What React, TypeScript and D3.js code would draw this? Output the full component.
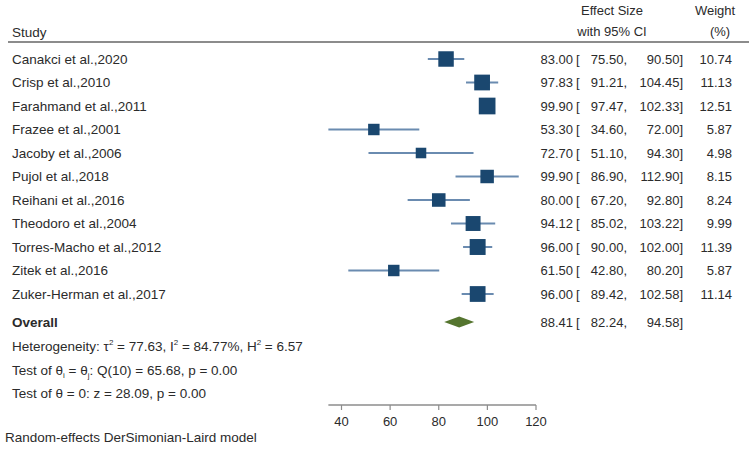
import * as d3 from 'd3';

const studies = [
  'Canakci et al.,2020',
  'Crisp et al.,2010',
  'Farahmand et al.,2011',
  'Frazee et al.,2001',
  'Jacoby et al.,2006',
  'Pujol et al.,2018',
  'Reihani et al.,2016',
  'Theodoro et al.,2004',
  'Torres-Macho et al.,2012',
  'Zitek et al.,2016',
  'Zuker-Herman et al.,2017',
];
const effect = [83.0, 97.83, 99.9, 53.3, 72.7, 99.9, 80.0, 94.12, 96.0, 61.5, 96.0];
const lower = [75.5, 91.21, 97.47, 34.6, 51.1, 86.9, 67.2, 85.02, 90.0, 42.8, 89.42];
const upper = [90.5, 104.45, 102.33, 72.0, 94.3, 112.9, 92.8, 103.22, 102.0, 80.2, 102.58];
const weight = [10.74, 11.13, 12.51, 5.87, 4.98, 8.15, 8.24, 9.99, 11.39, 5.87, 11.14];
const overall = [88.41, 82.24, 94.58];
const xTicks = [40, 60, 80, 100, 120];

const W = 749;
const H = 452;
const FONT = 'Liberation Sans, Arial, sans-serif';
const TEXT = '#2b2b2b';
const SQUARE = '#1a476f';
const CI_LINE = '#6a8bb0';
const DIAMOND = '#55752f';

const fmt = d3.format('.2f');

export default function App() {
  const x = d3.scaleLinear().domain([40, 120]).range([341.5, 536]);
  const y = d3.scalePoint<string>().domain(studies).range([59, 294]);
  const size = d3.scaleSqrt().domain([0, d3.max(weight) ?? 1]).range([0, 16.7]);

  const yOverall = 322;
  const yHet = 346;
  const yTest1 = 370;
  const yTest2 = 393;
  const yAxis = 405;
  const yModel = 437;
  const base = 4.6; // center -> baseline

  const axisMin = d3.min(lower) ?? 40;

  const colEs = 573;
  const colBr = 576;
  const colLo = 627;
  const colHi = 683;
  const colWt = 732;

  const statRow = (yy: number, es: number, lo: number, hi: number) => (
    <>
      <text x={colEs} y={yy + base} textAnchor='end'>{fmt(es)}</text>
      <text x={colBr} y={yy + base}>[</text>
      <text x={colLo} y={yy + base} textAnchor='end'>{fmt(lo)},</text>
      <text x={colHi} y={yy + base} textAnchor='end'>{fmt(hi)}]</text>
    </>
  );

  const dh = 5.5;
  const diamond = `M${x(overall[1])},${yOverall} L${x(overall[0])},${yOverall - dh} L${x(overall[2])},${yOverall} L${x(overall[0])},${yOverall + dh} Z`;

  return (
    <svg
      width={W}
      height={H}
      style={{ position: 'absolute', left: 0, top: 0, background: '#fff' }}
      fontFamily={FONT}
      fontSize={13}
      fill={TEXT}
    >
      {/* Header */}
      <text x={12} y={32 + base} fontSize={13.5}>Study</text>
      <text x={612} y={10 + base} textAnchor='middle'>Effect Size</text>
      <text x={612} y={31 + base} textAnchor='middle'>with 95% CI</text>
      <text x={715} y={10 + base} textAnchor='middle'>Weight</text>
      <text x={720} y={31 + base} textAnchor='middle'>(%)</text>
      <line x1={8} x2={W} y1={42} y2={42} stroke='#8c8c8c' strokeWidth={2} />

      {/* Study rows */}
      {studies.map((s, i) => {
        const yy = y(s) ?? 0;
        const sz = size(weight[i]);
        return (
          <g key={s}>
            <text x={12} y={yy + base} fontSize={13.5}>{s}</text>
            <line
              x1={x(lower[i])}
              x2={x(upper[i])}
              y1={yy}
              y2={yy}
              stroke={CI_LINE}
              strokeWidth={2}
            />
            <rect
              x={x(effect[i]) - sz / 2}
              y={yy - sz / 2}
              width={sz}
              height={sz}
              fill={SQUARE}
            />
            {statRow(yy, effect[i], lower[i], upper[i])}
            <text x={colWt} y={yy + base} textAnchor='end'>{fmt(weight[i])}</text>
          </g>
        );
      })}

      {/* Overall */}
      <text x={12} y={yOverall + base} fontSize={13.5} fontWeight='bold'>Overall</text>
      <path d={diamond} fill={DIAMOND} />
      {statRow(yOverall, overall[0], overall[1], overall[2])}

      {/* Heterogeneity and tests */}
      <text x={12} y={yHet + base} fontSize={13.5}>
        Heterogeneity: τ<tspan fontSize={8} dy={-6}>2</tspan>
        <tspan dy={6}> = 77.63, I</tspan><tspan fontSize={8} dy={-6}>2</tspan>
        <tspan dy={6}> = 84.77%, H</tspan><tspan fontSize={8} dy={-6}>2</tspan>
        <tspan dy={6}> = 6.57</tspan>
      </text>
      <text x={12} y={yTest1 + base} fontSize={13.5}>
        Test of θ<tspan fontSize={8} dy={3}>i</tspan>
        <tspan dy={-3}> = θ</tspan><tspan fontSize={8} dy={3}>j</tspan>
        <tspan dy={-3}>: Q(10) = 65.68, p = 0.00</tspan>
      </text>
      <text x={12} y={yTest2 + base} fontSize={13.5}>Test of θ = 0: z = 28.09, p = 0.00</text>

      {/* Axis */}
      <line x1={x(axisMin)} x2={x(120)} y1={yAxis} y2={yAxis} stroke='#8c8c8c' strokeWidth={1.5} />
      {xTicks.map((t) => (
        <g key={t}>
          <line x1={x(t)} x2={x(t)} y1={yAxis} y2={yAxis + 5} stroke='#8c8c8c' strokeWidth={1.2} />
          <text x={x(t)} y={421 + base} textAnchor='middle'>{t}</text>
        </g>
      ))}

      <text x={5} y={yModel + base} fontSize={13.5}>Random-effects DerSimonian-Laird model</text>
    </svg>
  );
}
